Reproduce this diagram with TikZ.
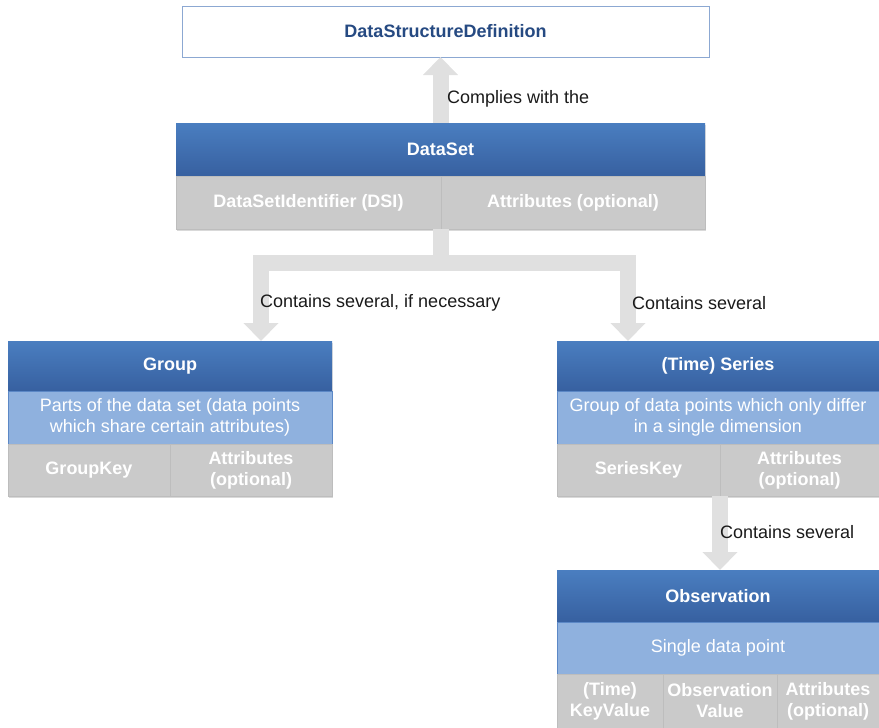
\documentclass[tikz,border=0pt]{standalone}
\usepackage{fontspec}
\setmainfont{Liberation Sans}
\usepackage{xcolor}
\usepackage{tikz}
\usetikzlibrary{positioning,arrows.meta,shadows}
\definecolor{headtop}{HTML}{4A7EC0}
\definecolor{headbot}{HTML}{3760A0}
\definecolor{descfill}{HTML}{8FB1DE}
\definecolor{descline}{HTML}{5C88C6}
\definecolor{cellfill}{HTML}{CACACA}
\definecolor{cellline}{HTML}{BDBDBD}
\definecolor{arrowgray}{HTML}{E0E0E0}
\definecolor{dsdline}{HTML}{8CA8D2}
\definecolor{dsdtext}{HTML}{264A82}
\definecolor{labeltext}{HTML}{1A1A1A}
\newcommand{\figsize}{\fontsize{18}{21}\selectfont}
\tikzset{
  figfont/.style={font=\figsize},
  figbox/.style={anchor=north west, inner sep=0pt, outer sep=0pt, align=center},
  figdsd/.style={figbox, draw=dsdline, line width=1pt, fill=white, text=dsdtext, font=\figsize\bfseries},
  fighead/.style={figbox, top color=headtop, bottom color=headbot, text=white, font=\figsize\bfseries,
    drop shadow={shadow xshift=0.5pt, shadow yshift=-1.5pt, opacity=0.25}},
  figdesc/.style={figbox, draw=descline, line width=1pt, fill=descfill, text=white},
  figcell/.style={figbox, draw=cellline, line width=1pt, fill=cellfill, text=white, font=\figsize\bfseries,
    drop shadow={shadow xshift=0.5pt, shadow yshift=-2pt, opacity=0.3}},
  figarrow/.style={draw=arrowgray, line width=16pt, -{Triangle[width=34pt,length=18pt]}},
  figlabel/.style={anchor=west, inner sep=0pt, text=labeltext},
}

\begin{document}
\begin{tikzpicture}[figfont, x=1pt, y=-1pt]
	\useasboundingbox (0,0) rectangle (879,728);

	% Definition at top
	\node[figdsd, minimum width=527pt, minimum height=51pt] (dsd) at (182,6) {DataStructureDefinition};

	% Data set with its two fields
	\node[fighead, minimum width=529pt, minimum height=53pt] (dataset) at (176,123) {DataSet};
	\node[figcell, minimum width=265pt, minimum height=53pt] (dsi) at (dataset.south west) {DataSetIdentifier (DSI)};
	\node[figcell, right=0pt of dsi, minimum width=264pt, minimum height=53pt] (dsattr) {Attributes (optional)};

	% Group (left)
	\node[fighead, minimum width=324pt, minimum height=50pt] (group) at (8,341) {Group};
	\node[figdesc, minimum width=324pt, minimum height=53pt] (groupdesc) at (group.south west)
	{Parts of the data set (data points\\which share certain attributes)};
	\node[figcell, minimum width=162pt, minimum height=52pt] (gkey) at (groupdesc.south west) {GroupKey};
	\node[figcell, right=0pt of gkey, minimum width=162pt, minimum height=52pt] (gattr) {Attributes\\(optional)};

	% Series (right)
	\node[fighead, minimum width=322pt, minimum height=50pt] (series) at (557,341) {(Time) Series};
	\node[figdesc, minimum width=322pt, minimum height=53pt] (seriesdesc) at (series.south west)
	{Group of data points which only differ\\in a single dimension};
	\node[figcell, minimum width=163pt, minimum height=52pt] (skey) at (seriesdesc.south west) {SeriesKey};
	\node[figcell, right=0pt of skey, minimum width=159pt, minimum height=52pt] (sattr) {Attributes\\(optional)};

	% Observation below the series
	\node[fighead, minimum width=322pt, minimum height=52pt] (obs) at (557,570) {Observation};
	\node[figdesc, minimum width=322pt, minimum height=52pt] (obsdesc) at (obs.south west) {Single data point};
	\node[figcell, minimum width=106pt, minimum height=54pt] (okey) at (obsdesc.south west) {(Time)\\KeyValue};
	\node[figcell, right=0pt of okey, minimum width=114pt, minimum height=54pt] (oval) {Observation\\Value};
	\node[figcell, right=0pt of oval, minimum width=102pt, minimum height=54pt] (oattr) {Attributes\\(optional)};

	% Block arrows
	\coordinate (fork) at ([yshift=-34pt]dsi.south east);
	\draw[figarrow] (dataset.north) -- (dataset.north |- dsd.south);
	\draw[figarrow] (dsi.south east) -- (fork) -| ([xshift=91pt]group.north);
	\draw[figarrow] (dsi.south east) -- (fork) -| ([xshift=-90pt]series.north);
	\draw[figarrow] (skey.south east) -- (skey.south east |- obs.north);

	% Arrow labels
	\node[figlabel] (complies) at (447,99) {Complies with the};
	\node[figlabel] (containsgrp) at (260,303) {Contains several, if necessary};
	\node[figlabel] (containsser) at (632,303) {Contains several};
	\node[figlabel] (containsobs) at (720,532) {Contains several};
\end{tikzpicture}
\end{document}
